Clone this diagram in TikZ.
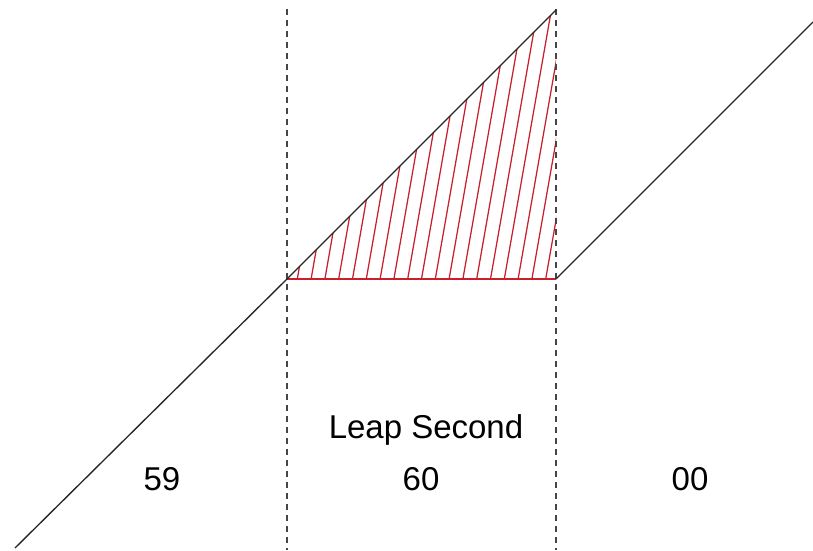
\documentclass[tikz,border=0pt]{standalone}
\usepackage{fontspec}
\setmainfont{Liberation Sans}
\definecolor{hatchred}{RGB}{200,30,45}
\definecolor{dashgray}{RGB}{70,70,70}
\begin{document}
\begin{tikzpicture}[x=1pt,y=-1pt,
  curve/.style={draw=black!85,line width=1.35pt},
  guide/.style={draw=dashgray,line width=1.5pt,dash pattern=on 6pt off 5pt},
  hatchline/.style={draw=hatchred,line width=1.25pt},
  lbl/.style={font=\fontsize{33}{40}\selectfont,inner sep=0pt,anchor=base}]
\useasboundingbox (0,0) rectangle (813,550);
\coordinate (start) at (15,548);
\coordinate (a) at (287,279);
\coordinate (top) at (556,10);
\coordinate (b) at (556,279);
\coordinate (end) at (813,22);
% hatching
\begin{scope}
  \clip (a) -- (top) -- (b) -- cycle;
  \foreach \k in {0,...,18}{
    \draw[hatchline] ({297.3+\k*13.8},279) -- ++(52.5,-300);
  }
\end{scope}
\draw[hatchline] (a) -- (b);
% guides
\draw[guide] (287,9) -- (287,550);
\draw[guide] (556,9) -- (556,550);
% time curve
\draw[curve] (start) -- (a) -- (top);
\draw[curve] (b) -- (end);
% labels
\node[lbl] (ls) at (426,438) {Leap Second};
\node[lbl] (n59) at (162,490) {59};
\node[lbl] (n60) at (421,490) {60};
\node[lbl] (n00) at (690,490) {00};
\end{tikzpicture}
\end{document}
